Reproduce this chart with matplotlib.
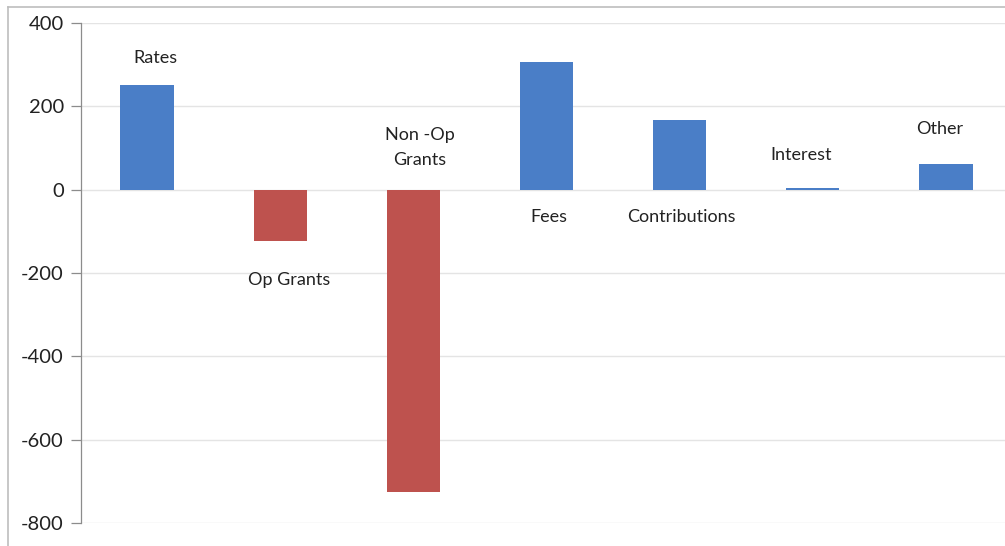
import matplotlib
matplotlib.use("Agg")
import matplotlib.pyplot as plt
from matplotlib.lines import Line2D

# Revenue components
categories = ["Rates", "Op Grants", "Non -Op\nGrants", "Fees", "Contributions", "Interest", "Other"]
values = [252, -124, -726, 306, 167, 5, 62]

# Label anchor positions (category offset, value)
label_dx = [0.06, 0.07, 0.05, 0.02, 0.01, -0.09, -0.05]
label_y = [317, -216, 101, -65, -65, 84, 146]

y_ticks = [-800, -600, -400, -200, 0, 200, 400]

BLUE = "#4A7EC7"
RED = "#BE524E"
TEXT = "#222222"

plt.rcParams["font.family"] = ["Lato", "DejaVu Sans"]

W, H = 1005, 546
fig = plt.figure(figsize=(W / 100, H / 100), dpi=100)
fig.patch.set_facecolor("white")

# Plot area runs slightly past the right edge of the canvas
ax = fig.add_axes([80.5 / W, 23 / H, 932 / W, 500 / H])

x = list(range(len(categories)))
colors = [BLUE if v >= 0 else RED for v in values]
ax.bar(x, values, width=0.4, color=colors, zorder=3)

ax.set_xlim(-0.5, len(categories) - 0.5)
ax.set_ylim(-800, 400)
ax.set_yticks(y_ticks)
ax.set_yticklabels([str(t) for t in y_ticks], fontsize=14.5, color=TEXT)
ax.set_xticks([])
ax.grid(axis="y", color="#E4E4E4", linewidth=1.0, zorder=0)

for s in ["top", "right", "bottom"]:
    ax.spines[s].set_visible(False)
ax.spines["left"].set_color("#8C8C8C")
ax.spines["left"].set_linewidth(0.9)
ax.tick_params(axis="y", length=7, width=0.9, color="#8C8C8C", pad=5)

for i, (cat, dx, ly) in enumerate(zip(categories, label_dx, label_y)):
    ax.text(i + dx, ly, cat, ha="center", va="center", fontsize=13,
            color=TEXT, linespacing=1.75, zorder=4)

# Outer chart frame (top and left edges visible)
fig.add_artist(Line2D([7.5 / W, 7.5 / W], [0, 1 - 6.5 / H], transform=fig.transFigure,
                      color="#BDBDBD", linewidth=1.2))
fig.add_artist(Line2D([7.5 / W, 1], [1 - 6.5 / H, 1 - 6.5 / H], transform=fig.transFigure,
                      color="#BDBDBD", linewidth=1.2))

fig.savefig("out.png", dpi=100, facecolor="white")
